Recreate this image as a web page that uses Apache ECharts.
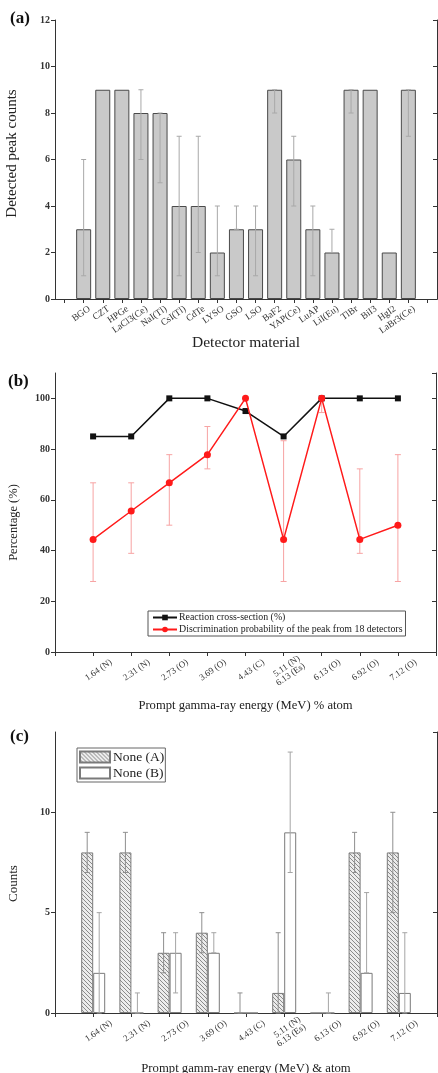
<!DOCTYPE html>
<html><head><meta charset="utf-8">
<script src="https://cdn.jsdelivr.net/npm/echarts@6/dist/echarts.min.js"></script>
<style>html,body{margin:0;padding:0;background:#fff}#c{width:438px;height:1073px}</style>
</head><body><div id="c"></div>
<script>
// ---- Panel (a) data ----
const detectors = ['BGO','CZT','HPGe','LaCl3(Ce)','NaI(Tl)','CsI(Tl)','CdTe','LYSO','GSO','LSO','BaF2','YAP(Ce)','LuAP','LiI(Eu)','TlBr','BiI3','HgI2','LaBr3(Ce)'];
const peakCounts = [3,9,9,8,8,4,4,2,3,3,9,6,3,2,9,9,2,9];
const peakLow    = [1,9,9,6,5,1,2,1,3,1,8,4,1,2,8,9,2,7];
const peakHigh   = [6,9,9,9,8,7,7,4,4,4,9,7,4,3,9,9,2,9];

// ---- Panel (b) data ----
const energies = ['1.64 (N)','2.31 (N)','2.73 (O)','3.69 (O)','4.43 (C)','5.11 (N)\n6.13 (Es)','6.13 (O)','6.92 (O)','7.12 (O)'];
const crossSection = [85,85,100,100,95,85,100,100,100];
const discrim      = [44.4,55.6,66.7,77.8,100,44.4,100,44.4,50];
const discrimLow   = [27.8,38.9,50,72.2,100,27.8,94.4,38.9,27.8];
const discrimHigh  = [66.7,66.7,77.8,88.9,100,83.3,100,72.2,77.8];

// ---- Panel (c) data ----
const countsA     = [8,8,3,4,0,1,0,8,8];
const countsALow  = [7,7,2,3,0,0,0,7,5];
const countsAHigh = [9,9,4,5,1,4,0,9,10];
const countsB     = [2,0,3,3,0,9,0,2,1];
const countsBLow  = [0,0,1,3,0,7,0,2,0];
const countsBHigh = [5,1,4,4,0,13,1,6,4];

const FONT = 'Liberation Serif';
const catsA = [''].concat(detectors, ['']);
const catsE = [''].concat(energies, ['']);

function pad(arr){ return ['-'].concat(arr, ['-']); }
function errData(lo, hi){ return lo.map((l,i)=>[i+1, l, hi[i]]); }

function errRender(offset, capHalf, color, width){
  return function(params, api){
    const x = api.value(0), lo = api.value(1), hi = api.value(2);
    if (lo === hi) return null;
    const p1 = api.coord([x, lo]), p2 = api.coord([x, hi]);
    const cx = p1[0] + offset;
    const st = {stroke: color, lineWidth: width};
    return {type:'group', children:[
      {type:'line', shape:{x1:cx,y1:p1[1],x2:cx,y2:p2[1]}, style:st},
      {type:'line', shape:{x1:cx-capHalf,y1:p1[1],x2:cx+capHalf,y2:p1[1]}, style:st},
      {type:'line', shape:{x1:cx-capHalf,y1:p2[1],x2:cx+capHalf,y2:p2[1]}, style:st}
    ]};
  };
}

// hatch pattern
const pc = document.createElement('canvas'); pc.width = 4; pc.height = 4;
const g = pc.getContext('2d');
g.fillStyle = '#ececec'; g.fillRect(0,0,4,4);
g.strokeStyle = '#8a8a8a'; g.lineWidth = 1;
g.beginPath(); g.moveTo(0,0); g.lineTo(4,4); g.moveTo(-1,3); g.lineTo(1,5); g.moveTo(3,-1); g.lineTo(5,1); g.stroke();
const hatch = {image: pc, repeat: 'repeat'};

const axLine = {show:true, lineStyle:{color:'#333', width:1}};

function bottomX(grid, data, gap, name, nameGap, nameSize, labelSize, margin, shift){
  return {type:'category', gridIndex:grid, data:data, boundaryGap:gap, position:'bottom',
    axisLine:axLine, axisTick:{show:true, inside:false, length:4, alignWithLabel:true, interval:0, lineStyle:{color:'#333'}},
    axisLabel:{interval:0, rotate:35, fontFamily:FONT, fontSize:labelSize, color:'#333', margin:margin,
      lineHeight:labelSize, padding:[0,-shift,0,0]},
    splitLine:{show:false}, name:name, nameLocation:'middle', nameGap:nameGap, nameMoveOverlap:false,
    nameTextStyle:{fontFamily:FONT, fontSize:nameSize, color:'#222'}};
}
function topX(grid, data, gap){
  return {type:'category', gridIndex:grid, data:data, boundaryGap:gap, position:'top',
    axisLine:axLine, axisTick:{show:true, inside:true, length:4, alignWithLabel:true, interval:0, lineStyle:{color:'#333'}},
    axisLabel:{show:false}, splitLine:{show:false}};
}
function leftY(grid, max, interval, name, nameGap, nameSize, showMax, namePad){
  return {type:'value', gridIndex:grid, min:0, max:max, interval:interval, position:'left',
    axisLine:axLine, axisTick:{show:true, inside:false, length:4, lineStyle:{color:'#333'}},
    axisLabel:{margin:5, showMaxLabel:showMax, fontFamily:FONT, color:'#333', fontSize:10, fontWeight:'bold'},
    splitLine:{show:false},
    name:name, nameLocation:'middle', nameGap:nameGap, nameMoveOverlap:false,
    nameTextStyle:{fontFamily:FONT, fontSize:nameSize, color:'#222', padding:namePad}};
}
function rightY(grid, max, interval){
  return {type:'value', gridIndex:grid, min:0, max:max, interval:interval, position:'right',
    axisLine:axLine, axisTick:{show:true, inside:true, length:4, lineStyle:{color:'#333'}},
    axisLabel:{show:false}, splitLine:{show:false}};
}

const tStyle = {fontFamily:FONT, fontSize:17, fontWeight:'bold', color:'#111'};
const chart = echarts.init(document.getElementById('c'), null, {renderer:'canvas'});
chart.setOption({
  animation:false,
  backgroundColor:'#fff',
  textStyle:{fontFamily:FONT},
  title:[
    {text:'(a)', left:10, top:10, padding:0, textStyle:tStyle},
    {text:'(b)', left:8, top:373, padding:0, textStyle:tStyle},
    {text:'(c)', left:10, top:728, padding:0, textStyle:tStyle}
  ],
  grid:[
    {left:55, top:20, width:382, height:279, outerBoundsMode:'none'},
    {left:55, top:373, width:381, height:279, outerBoundsMode:'none'},
    {left:55, top:732, width:382, height:281, outerBoundsMode:'none'}
  ],
  legend:[
    {seriesIndex:[2,3], data:['Reaction cross-section (%)','Discrimination probability of the peak from 18 detectors'],
     orient:'vertical', left:148, top:611, itemWidth:24, itemHeight:7, itemGap:1, padding:[1,3,1,4],
     borderColor:'#555', borderWidth:1, backgroundColor:'#fff', borderRadius:0,
     textStyle:{fontFamily:FONT, fontSize:9.9, lineHeight:11, color:'#222', padding:[0,0,0,-3]}},
    {data:['None (A)','None (B)'], orient:'vertical', left:77, top:748, itemWidth:30, itemHeight:11, itemGap:2,
     icon:'rect', padding:[2,1,2,2], borderColor:'#666', borderWidth:1, backgroundColor:'#fff', borderRadius:0,
     textStyle:{fontFamily:FONT, fontSize:13.5, lineHeight:14, color:'#222', padding:[0,0,0,-2]}}
  ],
  xAxis:[
    bottomX(0, catsA, true, 'Detector material', 36, 15.5, 9.5, 13, 7),
    topX(0, catsA, true),
    bottomX(1, catsE, false, 'Prompt gamma-ray energy (MeV) % atom', 47, 12.6, 9, 22, 22),
    topX(1, catsE, false),
    bottomX(2, catsE, false, 'Prompt gamm-ray energy (MeV) & atom', 49, 12.7, 9, 22, 22),
    topX(2, catsE, false)
  ],
  yAxis:[
    leftY(0, 12, 2, 'Detected peak counts', 35, 15, true, [0,0,0,12]),
    rightY(0, 12, 2),
    leftY(1, 110, 20, 'Percentage (%)', 35, 12.5, false, [0,20,0,0]),
    rightY(1, 110, 20),
    leftY(2, 14, 5, 'Counts', 35, 13, false, [0,22,0,0]),
    rightY(2, 14, 5)
  ],
  series:[
    {type:'bar', name:'Peaks', xAxisIndex:0, yAxisIndex:0, data:pad(peakCounts), barWidth:15,
     itemStyle:{color:'#c9c9c9', borderColor:'#4a4a4a', borderWidth:1}, z:2},
    {type:'custom', xAxisIndex:0, yAxisIndex:0, data:errData(peakLow, peakHigh), encode:{x:0,y:[1,2]},
     renderItem:errRender(0, 2.5, '#a8a8a8', 1), z:3, silent:true},
    {type:'line', name:'Reaction cross-section (%)', xAxisIndex:2, yAxisIndex:2, data:pad(crossSection),
     symbol:'rect', symbolSize:6, lineStyle:{color:'#111', width:1.5}, itemStyle:{color:'#111'}, z:4},
    {type:'line', name:'Discrimination probability of the peak from 18 detectors', xAxisIndex:2, yAxisIndex:2, data:pad(discrim),
     symbol:'circle', symbolSize:7, lineStyle:{color:'#ff1a1a', width:1.5}, itemStyle:{color:'#ff1a1a'}, z:5},
    {type:'custom', xAxisIndex:2, yAxisIndex:2, data:errData(discrimLow, discrimHigh), encode:{x:0,y:[1,2]},
     renderItem:errRender(0, 3, '#f7a3a3', 1), z:3, silent:true},
    {type:'bar', name:'None (A)', xAxisIndex:4, yAxisIndex:4, data:pad(countsA), barWidth:12, barGap:'0%',
     itemStyle:{color:hatch, borderColor:'#7a7a7a', borderWidth:1}, z:2},
    {type:'bar', name:'None (B)', xAxisIndex:4, yAxisIndex:4, data:pad(countsB), barWidth:12, barGap:'0%',
     itemStyle:{color:'#fff', borderColor:'#7a7a7a', borderWidth:1}, z:2},
    {type:'custom', xAxisIndex:4, yAxisIndex:4, data:errData(countsALow, countsAHigh), encode:{x:0,y:[1,2]},
     renderItem:errRender(-6, 2.5, '#8f8f8f', 1), z:3, silent:true},
    {type:'custom', xAxisIndex:4, yAxisIndex:4, data:errData(countsBLow, countsBHigh), encode:{x:0,y:[1,2]},
     renderItem:errRender(6, 2.5, '#a5a5a5', 1), z:3, silent:true}
  ]
});
</script></body></html>
